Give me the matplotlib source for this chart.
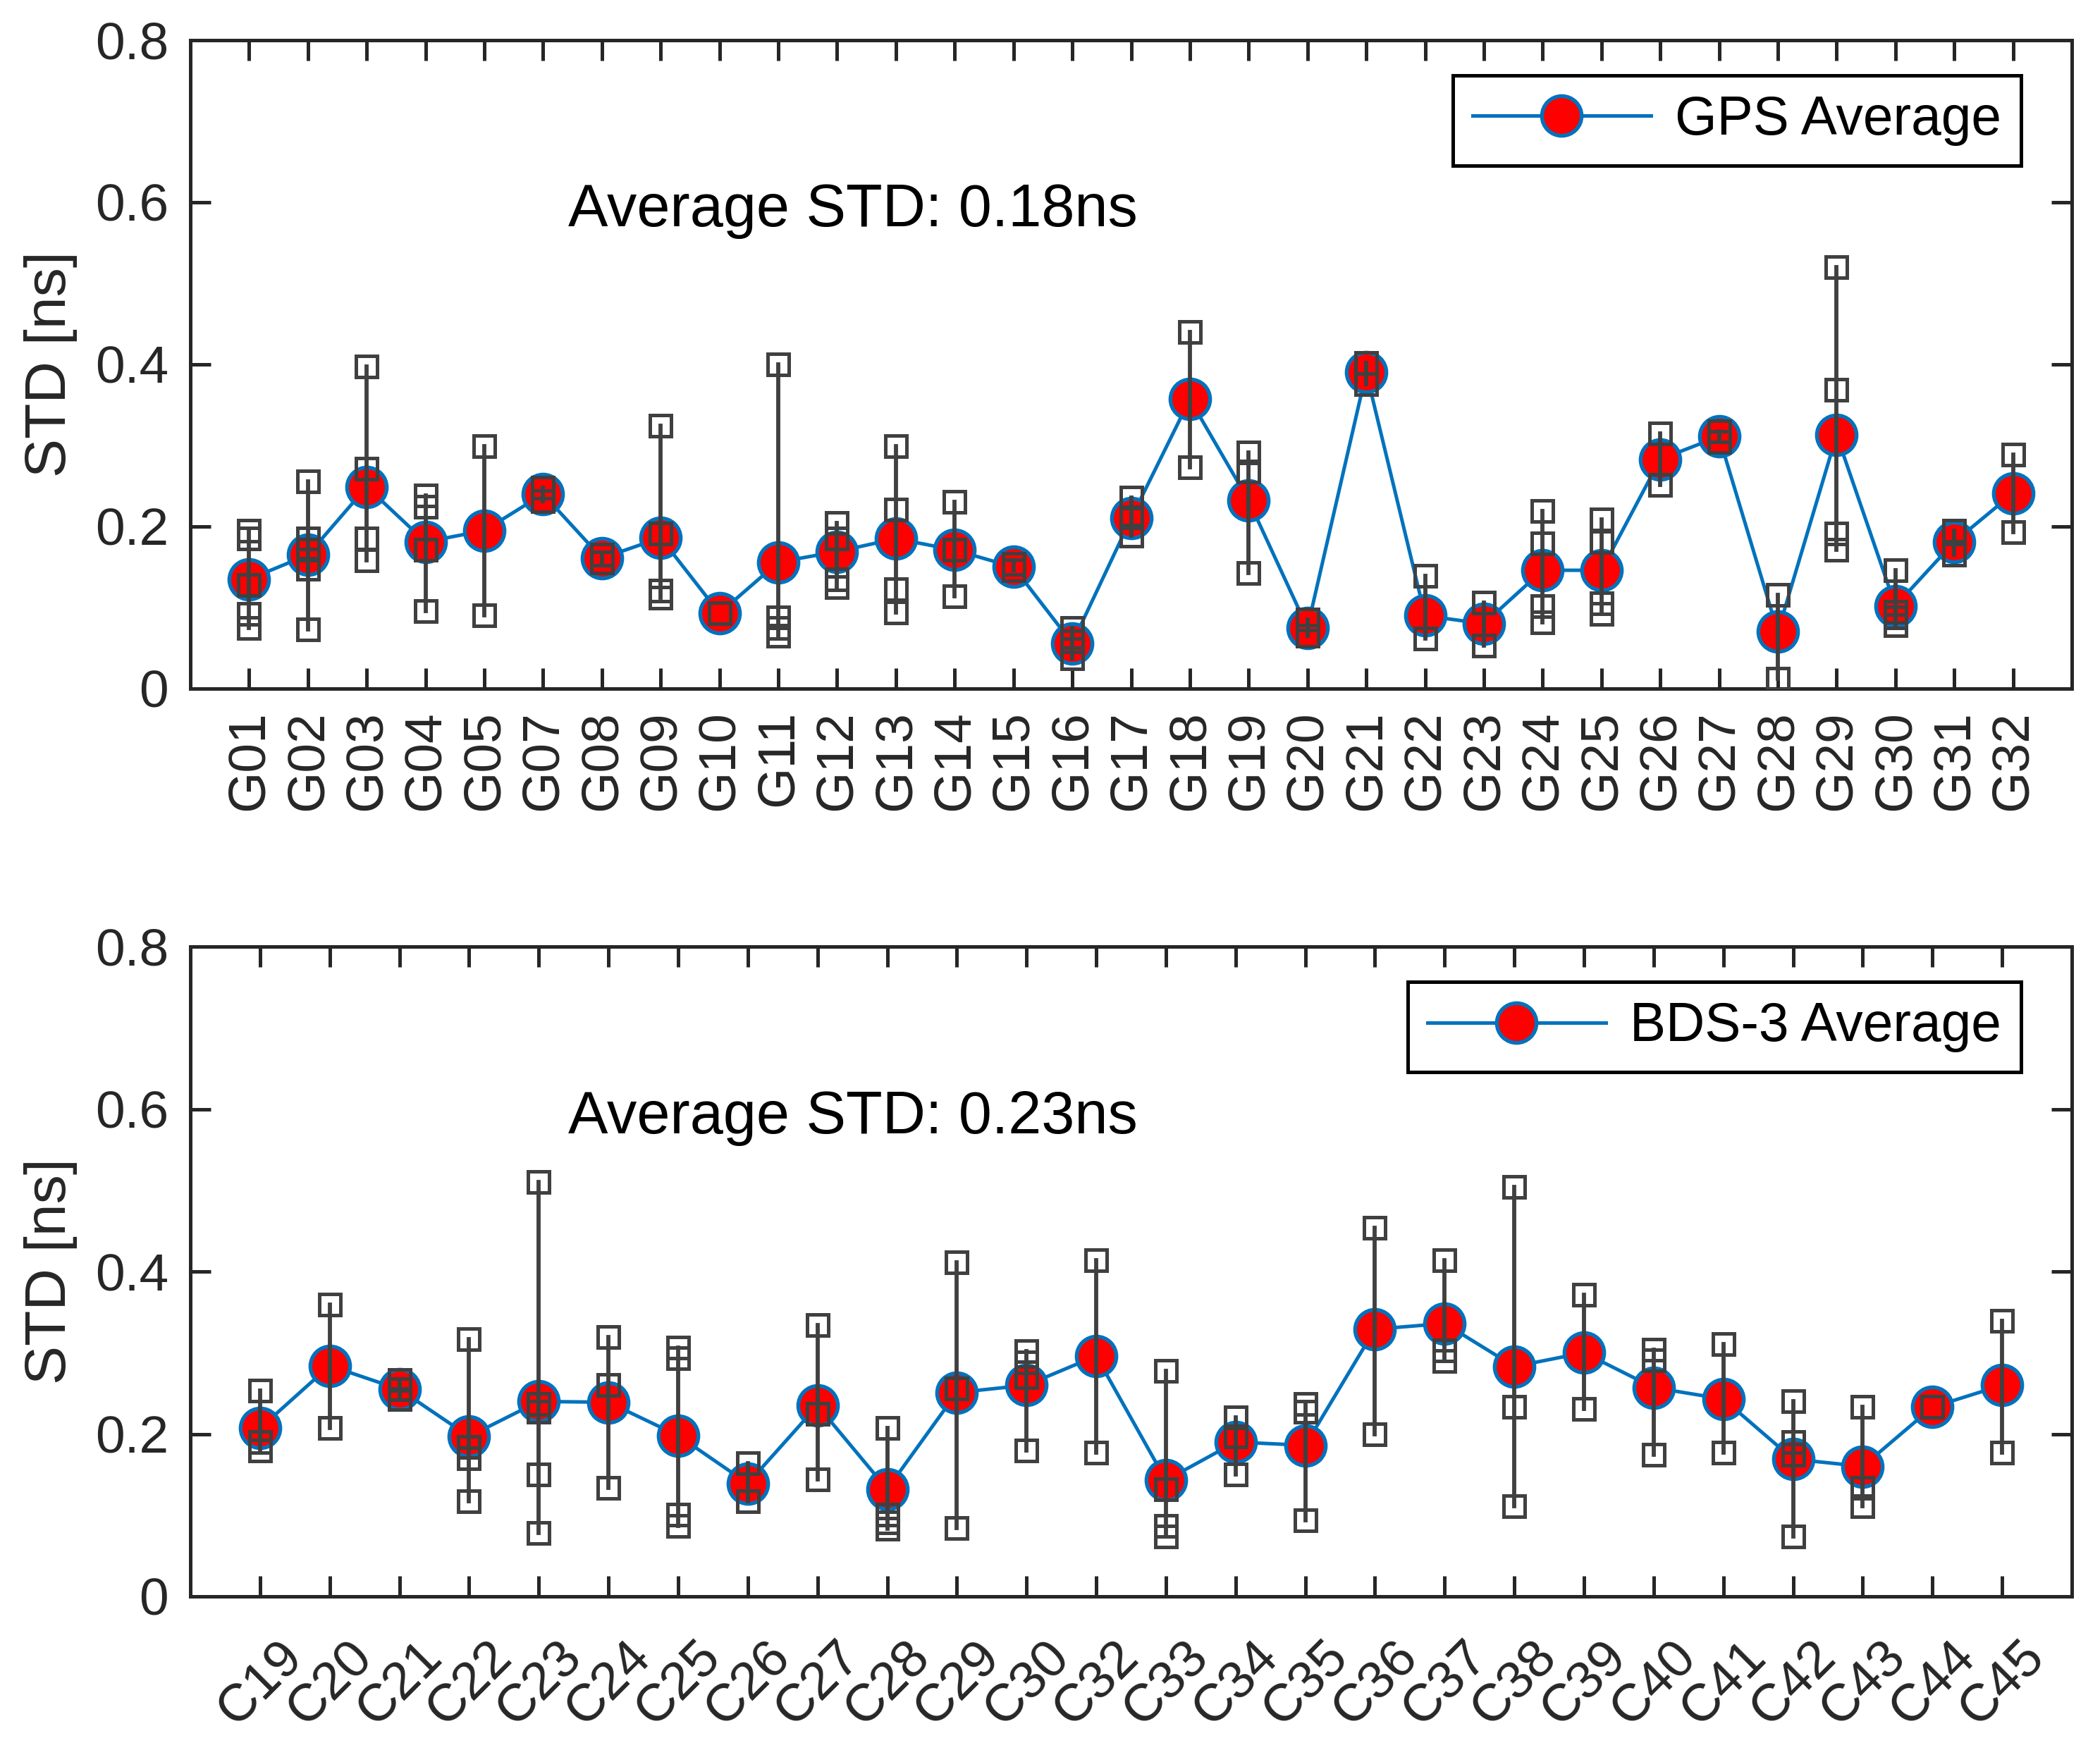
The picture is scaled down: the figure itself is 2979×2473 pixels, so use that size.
import numpy as np
import matplotlib
matplotlib.use("Agg")
from matplotlib import pyplot as plt

plt.rcParams['font.family'] = ['Liberation Sans', 'DejaVu Sans']

# GPS satellites
gps_prn = ['G01', 'G02', 'G03', 'G04', 'G05', 'G07', 'G08', 'G09', 'G10', 'G11',
           'G12', 'G13', 'G14', 'G15', 'G16', 'G17', 'G18', 'G19', 'G20', 'G21',
           'G22', 'G23', 'G24', 'G25', 'G26', 'G27', 'G28', 'G29', 'G30', 'G31', 'G32']
gps_avg = [0.135, 0.165, 0.249, 0.181, 0.195, 0.240, 0.161, 0.186, 0.093, 0.156,
           0.169, 0.185, 0.171, 0.150, 0.056, 0.210, 0.357, 0.232, 0.075, 0.390,
           0.090, 0.080, 0.146, 0.146, 0.283, 0.311, 0.070, 0.313, 0.102, 0.181, 0.241]
gps_runs = [
    [0.195, 0.185, 0.128, 0.092, 0.075],
    [0.256, 0.185, 0.171, 0.148, 0.073],
    [0.397, 0.271, 0.185, 0.158],
    [0.238, 0.224, 0.171, 0.096],
    [0.299, 0.090],
    [0.248, 0.231],
    [0.165, 0.156],
    [0.324, 0.191, 0.121, 0.112],
    [0.093],
    [0.400, 0.088, 0.075, 0.065],
    [0.204, 0.185, 0.135, 0.125],
    [0.299, 0.221, 0.123, 0.094],
    [0.230, 0.171, 0.114],
    [0.154, 0.146],
    [0.075, 0.058, 0.037],
    [0.236, 0.211, 0.189],
    [0.440, 0.273],
    [0.291, 0.268, 0.143],
    [0.085, 0.065],
    [0.402, 0.376],
    [0.139, 0.062],
    [0.106, 0.053],
    [0.219, 0.179, 0.102, 0.082],
    [0.209, 0.181, 0.105, 0.092],
    [0.315, 0.251],
    [0.317, 0.304],
    [0.116, 0.012],
    [0.520, 0.369, 0.191, 0.171],
    [0.146, 0.095, 0.088, 0.078],
    [0.195, 0.165],
    [0.289, 0.193],
]

# BDS-3 satellites
bds_prn = ['C19', 'C20', 'C21', 'C22', 'C23', 'C24', 'C25', 'C26', 'C27', 'C28',
           'C29', 'C30', 'C32', 'C33', 'C34', 'C35', 'C36', 'C37', 'C38', 'C39',
           'C40', 'C41', 'C42', 'C43', 'C44', 'C45']
bds_avg = [0.207, 0.284, 0.255, 0.197, 0.240, 0.239, 0.198, 0.139, 0.235, 0.132,
           0.251, 0.260, 0.296, 0.143, 0.190, 0.186, 0.329, 0.336, 0.283, 0.300,
           0.257, 0.243, 0.169, 0.160, 0.233, 0.260]
bds_runs = [
    [0.253, 0.190, 0.180],
    [0.359, 0.207],
    [0.266, 0.255, 0.243],
    [0.317, 0.184, 0.170, 0.117],
    [0.510, 0.237, 0.227, 0.150, 0.078],
    [0.319, 0.260, 0.134],
    [0.306, 0.293, 0.101, 0.087],
    [0.164, 0.117],
    [0.334, 0.225, 0.144],
    [0.207, 0.101, 0.091, 0.083],
    [0.411, 0.256, 0.084],
    [0.302, 0.288, 0.270, 0.180],
    [0.414, 0.177],
    [0.278, 0.132, 0.087, 0.074],
    [0.220, 0.197, 0.150],
    [0.237, 0.227, 0.094],
    [0.454, 0.200],
    [0.414, 0.303, 0.290],
    [0.504, 0.233, 0.111],
    [0.371, 0.231],
    [0.304, 0.291, 0.174],
    [0.311, 0.177],
    [0.240, 0.190, 0.174, 0.074],
    [0.233, 0.134, 0.111],
    [0.233],
    [0.339, 0.177],
]

W, H = 2979, 2473
fig = plt.figure(figsize=(W / 300, H / 300), dpi=300)
ax1 = fig.add_axes([270 / W, 1 - 977 / H, 2669 / W, 920 / H])
ax2 = fig.add_axes([270 / W, 1 - 2265 / H, 2669 / W, 922 / H])

blue = '#0072BD'
grey = '#404040'
axcol = '#262626'


def panel(ax, prn, avg, runs, label, note, rot, pad):
    x = np.arange(1, len(prn) + 1)
    ax.plot(x, avg, '-o', color=blue, lw=1.2, ms=13.5, mfc='red', mec=blue,
            mew=1.3, zorder=2, label=label)
    for xi, r in zip(x, runs):
        ax.plot([xi, xi], [min(r), max(r)], color=grey, lw=1.4, zorder=3)
        ax.plot([xi] * len(r), r, 's', ms=7, mfc='none', mec=grey, mew=1.2,
                zorder=4)
    ax.set_xlim(0, len(prn) + 1)
    ax.set_ylim(0, 0.8)
    ax.set_yticks([0, 0.2, 0.4, 0.6, 0.8])
    ax.set_yticklabels(['0', '0.2', '0.4', '0.6', '0.8'])
    ax.set_xticks(x)
    ax.set_xticklabels(prn, rotation=rot)
    ax.tick_params(direction='in', top=True, right=True, length=7, width=1.2,
                   labelsize=18, colors=axcol)
    ax.tick_params(axis='x', pad=pad)
    ax.tick_params(axis='y', pad=7.4)
    for s in ax.spines.values():
        s.set_linewidth(1.2)
        s.set_color(axcol)
    ax.set_ylabel('STD [ns]', fontsize=19.8, color=axcol, labelpad=6)
    ax.text(0.2008, 0.713, note, transform=ax.transAxes, fontsize=20.3,
            color='black', va='baseline', ha='left')
    leg = ax.legend(loc='upper right', bbox_to_anchor=(0.973, 0.946),
                    borderaxespad=0, fontsize=18.4, handlelength=3.3,
                    handletextpad=0.45, borderpad=0.36, fancybox=False,
                    framealpha=1, edgecolor='black', numpoints=1)
    leg.get_frame().set_linewidth(1.2)


panel(ax1, gps_prn, gps_avg, gps_runs, 'GPS Average', 'Average STD: 0.18ns', 90, 7.5)
panel(ax2, bds_prn, bds_avg, bds_runs, 'BDS-3 Average', 'Average STD: 0.23ns', 45, 12)

fig.savefig('out.png', dpi=300)
